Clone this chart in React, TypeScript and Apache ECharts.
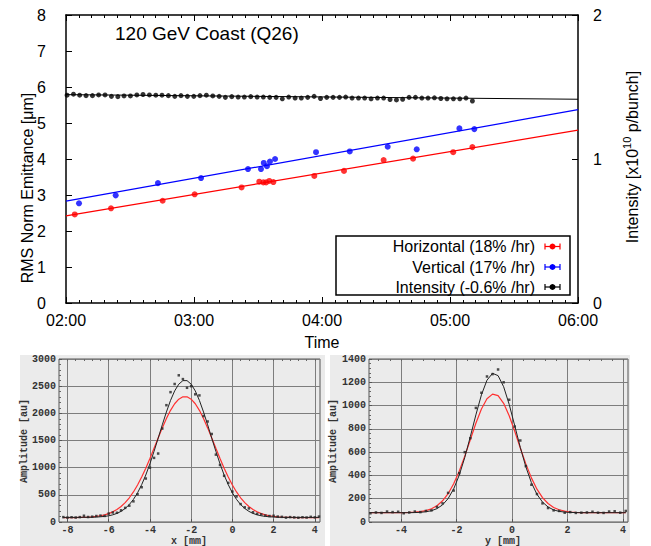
import React, { useEffect, useRef } from "react";
import * as echarts from "echarts";

const SANS = "'Liberation Sans', Arial, Helvetica, sans-serif";
const MONO = "'Liberation Mono', 'DejaVu Sans Mono', 'Courier New', monospace";

// ---------- Top chart data (time in minutes after 02:00) ----------
const timeTickLabels = ["02:00", "03:00", "04:00", "05:00", "06:00"];

const intensityTimes = [
  0.5, 3.5, 6.4, 9.4, 12.4, 15.3, 18.3, 21.3, 24.3, 27.2, 30.2, 33.2, 36.1, 39.1, 42.1, 45.0,
  48.0, 51.0, 53.9, 56.9, 59.9, 62.8, 65.8, 68.8, 71.8, 74.7, 77.7, 80.7, 83.6, 86.6, 89.6,
  92.5, 95.5, 98.5, 101.4, 104.4, 107.4, 110.3, 113.3, 116.3, 119.3, 122.2, 125.2, 128.2,
  131.1, 134.1, 137.1, 140.0, 143.0, 146.0, 148.9, 151.9, 154.9, 157.8, 160.8, 163.8, 166.8,
  169.7, 172.7, 175.7, 178.6, 181.6, 184.6, 187.5, 190.5,
];
// x10^10 p/bunch
const intensityValues = [
  1.443, 1.45, 1.443, 1.44, 1.44, 1.445, 1.445, 1.435, 1.433, 1.438, 1.438, 1.445, 1.448,
  1.445, 1.443, 1.443, 1.44, 1.435, 1.44, 1.435, 1.435, 1.44, 1.443, 1.438, 1.435, 1.428,
  1.433, 1.43, 1.43, 1.433, 1.43, 1.43, 1.428,
  1.428, 1.418, 1.43, 1.423, 1.423, 1.428, 1.435, 1.42, 1.428, 1.428, 1.428, 1.43, 1.423,
  1.423, 1.423, 1.418, 1.423, 1.423, 1.413, 1.41, 1.415, 1.428, 1.428, 1.423, 1.423, 1.425,
  1.42, 1.418, 1.418, 1.418, 1.423, 1.403,
];
const intensityFit = [1.447, 1.415]; // at 02:00 and 06:00

const vertTimes = [6.1, 23.3, 43.1, 63.3, 85.3, 91.4, 92.7, 94.2, 95.6, 98.0, 117.2, 133.0, 150.8, 164.4, 184.4, 191.4];
const vertValues = [2.77, 2.99, 3.33, 3.47, 3.72, 3.72, 3.89, 3.8, 3.93, 4.0, 4.19, 4.21, 4.34, 4.27, 4.85, 4.83];
const vertFit = [2.83, 5.37];

const horizTimes = [4.1, 21.1, 45.3, 60.3, 82.3, 90.6, 92.5, 93.8, 95.3, 97.2, 116.4, 130.3, 148.9, 162.7, 181.5, 190.5];
const horizValues = [2.46, 2.63, 2.84, 3.02, 3.21, 3.37, 3.35, 3.35, 3.39, 3.36, 3.53, 3.67, 3.97, 4.01, 4.19, 4.33];
const horizFit = [2.42, 4.8];

const legendLabels = ["Horizontal (18% /hr)", "Vertical (17% /hr)", "Intensity (-0.6% /hr)"];
const legendColors = ["#ff0000", "#0000ff", "#000000"];

// ---------- Bottom-left profile (x) ----------
const profXPos = [
  -8.2, -8.0, -7.8, -7.6, -7.4, -7.2, -7.0, -6.8, -6.6, -6.4, -6.2, -6.0, -5.8, -5.6, -5.4, -5.2,
  -5.0, -4.8, -4.6, -4.4, -4.2, -4.0, -3.8, -3.6, -3.4, -3.2, -3.0, -2.8, -2.6, -2.4, -2.2, -2.0,
  -1.8, -1.6, -1.4, -1.2, -1.0, -0.8, -0.6, -0.4, -0.2, 0.0, 0.2, 0.4, 0.6, 0.8, 1.0, 1.2, 1.4,
  1.6, 1.8, 2.0, 2.2, 2.4, 2.6, 2.8, 3.0, 3.2, 3.4, 3.6, 3.8, 4.0, 4.2,
];
const profXDots = [
  90, 80, 88, 82, 90, 115, 92, 98, 110, 118,
  112, 155, 175, 170, 215, 260, 300, 380, 510, 640,
  800, 1000, 1180, 1260, 1720, 2150, 2390, 2540, 2700, 2630,
  2470, 2500, 2350, 2330, 1950, 1850, 1620, 1240, 1050, 850,
  720, 560, 470, 330, 270, 250, 180, 150, 140, 120,
  110, 115, 100, 95, 80, 90, 85, 78, 88, 82,
  95, 85, 100,
];
const profXFit = [
  85, 85, 85, 85, 85, 86, 86, 88, 91, 96,
  103, 114, 132, 158, 196, 249, 321, 416, 537, 687,
  865, 1072, 1300, 1542, 1789, 2025, 2238, 2413, 2537, 2602,
  2602, 2537, 2413, 2238, 2025, 1789, 1542, 1300, 1072, 865,
  687, 537, 416, 321, 249, 196, 158, 132, 114, 103,
  96, 91, 88, 86, 85, 85, 85, 85, 85, 85,
  85, 85, 85,
];
const profXGauss = [
  80, 80, 81, 82, 84, 86, 89, 95, 103, 115,
  131, 155, 187, 230, 286, 357, 446, 553, 681, 827,
  991, 1169, 1356, 1547, 1732, 1904, 2055, 2176, 2261, 2304,
  2304, 2261, 2176, 2055, 1904, 1732, 1547, 1356, 1169, 991,
  827, 681, 553, 446, 357, 286, 230, 187, 155, 131,
  115, 103, 95, 89, 86, 84, 82, 81, 81, 80,
  80, 80, 80,
];
const profXTicks = [-8, -6, -4, -2, 0, 2, 4];
const profXMinorTicks = [
  -8, -7.6, -7.2, -6.8, -6.4, -6, -5.6, -5.2, -4.8, -4.4, -4, -3.6, -3.2, -2.8, -2.4, -2,
  -1.6, -1.2, -0.8, -0.4, 0, 0.4, 0.8, 1.2, 1.6, 2, 2.4, 2.8, 3.2, 3.6, 4,
];

// ---------- Bottom-right profile (y) ----------
const profYPos = [
  -5.1, -4.9, -4.7, -4.5, -4.3, -4.1, -3.9, -3.7, -3.5, -3.3, -3.1, -2.9, -2.7, -2.5, -2.3, -2.1,
  -1.9, -1.7, -1.5, -1.3, -1.1, -0.9, -0.7, -0.5, -0.3, -0.1, 0.1, 0.3, 0.5, 0.7, 0.9, 1.1, 1.3,
  1.5, 1.7, 1.9, 2.1, 2.3, 2.5, 2.7, 2.9, 3.1, 3.3, 3.5, 3.7, 3.9, 4.1,
];
const profYDots = [
  75, 82, 78, 90, 85, 88, 75, 82, 90, 85,
  95, 100, 130, 160, 250, 270, 420, 600, 720, 980,
  1110, 1250, 1270, 1310, 1200, 1050, 820, 700, 480, 320,
  240, 160, 120, 100, 95, 80, 85, 78, 80, 82,
  88, 80, 78, 90, 92, 80, 95,
];
const profYFit = [
  80, 80, 80, 80, 80, 80, 80, 80, 81, 83,
  88, 97, 115, 147, 201, 284, 402, 554, 733, 920,
  1092, 1218, 1277, 1257, 1162, 1010, 827, 641, 474, 338,
  238, 171, 129, 104, 91, 85, 82, 81, 80, 80,
  80, 80, 80, 80, 80, 80, 80,
];
const profYGauss = [
  80, 80, 80, 80, 80, 80, 81, 82, 84, 89,
  98, 114, 140, 182, 243, 328, 436, 566, 707, 848,
  970, 1058, 1098, 1085, 1019, 912, 779, 636, 499, 379,
  282, 210, 159, 125, 105, 93, 86, 83, 81, 80,
  80, 80, 80, 80, 80, 80, 80,
];
const profYTicks = [-4, -2, 0, 2, 4];
const profYMinorTicks = [
  -4.8, -4.4, -4, -3.6, -3.2, -2.8, -2.4, -2, -1.6, -1.2, -0.8, -0.4, 0, 0.4, 0.8, 1.2, 1.6,
  2, 2.4, 2.8, 3.2, 3.6, 4,
];

const zip = (xs: number[], ys: number[]) => xs.map((x, i) => [x, ys[i]]);

function buildOption(): any {
  const frame = { show: true, onZero: false, lineStyle: { color: "#000", width: 1.5 } };
  const topTickLabel = { fontFamily: SANS, fontSize: 16, color: "#000" };
  const monoLabel = { fontFamily: MONO, fontSize: 10, fontWeight: "bold", color: "#333" };
  const profSplit = { show: true, lineStyle: { color: "#7d7d7d", width: 1 } };
  const profTick = { show: true, inside: true, length: 3, lineStyle: { color: "#555" } };
  const profMinor = { show: true, splitNumber: 5, length: 2, lineStyle: { color: "#666" } };
  const plain = (v: number) => String(v);

  const legendGraphics: any[] = [];
  const rowsY = [246.5, 267, 287];
  legendLabels.forEach((lab, i) => {
    const y = rowsY[i];
    const c = legendColors[i];
    legendGraphics.push(
      {
        type: "text",
        x: 535,
        y,
        z: 21,
        style: {
          text: lab, fontFamily: SANS, fontSize: 16, fill: "#000",
          align: "right", verticalAlign: "middle", textAlign: "right", textVerticalAlign: "middle",
        },
      },
      { type: "line", z: 21, shape: { x1: 545, y1: y, x2: 560, y2: y }, style: { stroke: c, lineWidth: 1.2 } },
      { type: "line", z: 21, shape: { x1: 545, y1: y - 3, x2: 545, y2: y + 3 }, style: { stroke: c, lineWidth: 1.2 } },
      { type: "line", z: 21, shape: { x1: 560, y1: y - 3, x2: 560, y2: y + 3 }, style: { stroke: c, lineWidth: 1.2 } },
      { type: "circle", z: 22, shape: { cx: 552.5, cy: y, r: 3 }, style: { fill: c } }
    );
  });

  const rotText = (text: string, x: number, y: number, font: string, size: number, weight: string, color: string) => ({
    type: "text", x, y, rotation: Math.PI / 2,
    style: {
      text, fontFamily: font, fontSize: size, fontWeight: weight, fill: color,
      align: "center", verticalAlign: "top", textAlign: "center", textVerticalAlign: "top",
    },
  });

  return {
    animation: false,
    backgroundColor: "#ffffff",
    textStyle: { fontFamily: SANS },
    grid: [
      { left: 66, top: 15, width: 512, height: 288, show: false },
      { left: 59, top: 359, width: 261, height: 163, show: true, backgroundColor: "transparent", borderColor: "#555", borderWidth: 1 },
      { left: 369, top: 359, width: 259, height: 163, show: true, backgroundColor: "transparent", borderColor: "#555", borderWidth: 1 },
    ],
    xAxis: [
      {
        gridIndex: 0, type: "value", min: 0, max: 240, interval: 60, position: "bottom",
        axisLine: frame,
        axisTick: { show: true, inside: true, length: 6, lineStyle: { color: "#000" } },
        minorTick: { show: true, splitNumber: 10, length: 3, lineStyle: { color: "#000" } },
        axisLabel: { ...topTickLabel, margin: 9, formatter: (v: number) => timeTickLabels[Math.round(v / 60)] ?? "" },
        splitLine: { show: false },
      },
      {
        gridIndex: 0, type: "value", min: 0, max: 240, interval: 60, position: "top",
        axisLine: frame,
        axisTick: { show: true, inside: true, length: 6, lineStyle: { color: "#000" } },
        minorTick: { show: true, splitNumber: 10, length: 3, lineStyle: { color: "#000" } },
        axisLabel: { show: false },
        splitLine: { show: false },
      },
      {
        gridIndex: 1, type: "value", min: -8.41, max: 4.25, position: "bottom",
        axisLine: { show: false, onZero: false },
        axisTick: { ...profTick, customValues: profXTicks },
        axisLabel: { ...monoLabel, margin: 3, customValues: profXTicks, formatter: plain },
        splitLine: profSplit,
      },
      {
        gridIndex: 2, type: "value", min: -5.15, max: 4.18, position: "bottom",
        axisLine: { show: false, onZero: false },
        axisTick: { ...profTick, customValues: profYTicks },
        axisLabel: { ...monoLabel, margin: 3, customValues: profYTicks, formatter: plain },
        splitLine: profSplit,
      },
      {
        gridIndex: 1, type: "value", min: -8.41, max: 4.25, position: "top",
        axisLine: { show: false, onZero: false },
        axisTick: { show: true, inside: true, length: 2, lineStyle: { color: "#666" }, customValues: profXMinorTicks },
        axisLabel: { show: false },
        splitLine: { show: false },
      },
      {
        gridIndex: 2, type: "value", min: -5.15, max: 4.18, position: "top",
        axisLine: { show: false, onZero: false },
        axisTick: { show: true, inside: true, length: 2, lineStyle: { color: "#666" }, customValues: profYMinorTicks },
        axisLabel: { show: false },
        splitLine: { show: false },
      },
    ],
    yAxis: [
      {
        gridIndex: 0, type: "value", min: 0, max: 8, interval: 1, position: "left",
        axisLine: frame,
        axisTick: { show: true, inside: true, length: 6, lineStyle: { color: "#000" } },
        axisLabel: { ...topTickLabel, margin: 20 },
        splitLine: { show: false },
      },
      {
        gridIndex: 0, type: "value", min: 0, max: 2, interval: 1, position: "right",
        axisLine: frame,
        axisTick: { show: true, inside: true, length: 6, lineStyle: { color: "#000" } },
        axisLabel: { ...topTickLabel, margin: 15 },
        splitLine: { show: false },
      },
      {
        gridIndex: 1, type: "value", min: 0, max: 3000, interval: 500, position: "left",
        axisLine: { show: false, onZero: false },
        axisTick: profTick,
        minorTick: profMinor,
        axisLabel: { ...monoLabel, margin: 3, formatter: plain },
        splitLine: profSplit,
      },
      {
        gridIndex: 2, type: "value", min: 0, max: 1400, interval: 200, position: "left",
        axisLine: { show: false, onZero: false },
        axisTick: profTick,
        minorTick: profMinor,
        axisLabel: { ...monoLabel, margin: 3, formatter: plain },
        splitLine: profSplit,
      },
    ],
    graphic: [
      { type: "rect", z: -10, shape: { x: 20, y: 355, width: 305, height: 191 }, style: { fill: "#ebebeb" } },
      { type: "rect", z: -10, shape: { x: 330, y: 355, width: 300, height: 191 }, style: { fill: "#ebebeb" } },
      {
        type: "text", x: 115, y: 33,
        style: { text: "120 GeV Coast (Q26)", fontFamily: SANS, fontSize: 19, fill: "#000", align: "left", verticalAlign: "middle", textAlign: "left", textVerticalAlign: "middle" },
      },
      rotText("RMS Norm Emittance [μm]", 19.5, 188, SANS, 16, "normal", "#000"),
      {
        type: "text", x: 621, y: 157, rotation: Math.PI / 2,
        style: {
          text: "{n|Intensity [x10}{s|10}{n| p/bunch]}",
          align: "center", verticalAlign: "top", textAlign: "center", textVerticalAlign: "top",
          rich: {
            n: { fontFamily: SANS, fontSize: 16, fill: "#000", lineHeight: 22 },
            s: { fontFamily: SANS, fontSize: 11, fill: "#000", lineHeight: 11, verticalAlign: "top" },
          },
        },
      },
      {
        type: "text", x: 322, y: 342,
        style: { text: "Time", fontFamily: SANS, fontSize: 16, fill: "#000", align: "center", verticalAlign: "middle", textAlign: "center", textVerticalAlign: "middle" },
      },
      { type: "rect", z: 20, shape: { x: 336, y: 236, width: 234, height: 59 }, style: { fill: "#fff", stroke: "#000", lineWidth: 1.5 } },
      ...legendGraphics,
      rotText("Amplitude [au]", 19.5, 441, MONO, 10, "bold", "#333"),
      rotText("Amplitude [au]", 328.5, 441, MONO, 10, "bold", "#333"),
      {
        type: "text", x: 189, y: 541.5,
        style: { text: "x [mm]", fontFamily: MONO, fontWeight: "bold", fontSize: 10, fill: "#333", align: "center", verticalAlign: "middle", textAlign: "center", textVerticalAlign: "middle" },
      },
      {
        type: "text", x: 503, y: 541.5,
        style: { text: "y [mm]", fontFamily: MONO, fontWeight: "bold", fontSize: 10, fill: "#333", align: "center", verticalAlign: "middle", textAlign: "center", textVerticalAlign: "middle" },
      },
    ],
    series: [
      {
        name: "Intensity fit", type: "line", xAxisIndex: 0, yAxisIndex: 1, symbol: "none", z: 2,
        data: [[0, intensityFit[0]], [240, intensityFit[1]]],
        lineStyle: { color: "#000", width: 1 },
      },
      {
        name: "Intensity", type: "scatter", xAxisIndex: 0, yAxisIndex: 1, symbol: "circle", symbolSize: 5, z: 3,
        data: zip(intensityTimes, intensityValues), itemStyle: { color: "#000" },
      },
      {
        name: "Horizontal fit", type: "line", xAxisIndex: 0, yAxisIndex: 0, symbol: "none", z: 2,
        data: [[0, horizFit[0]], [240, horizFit[1]]], lineStyle: { color: "#ff0000", width: 1.2 },
      },
      {
        name: "Vertical fit", type: "line", xAxisIndex: 0, yAxisIndex: 0, symbol: "none", z: 2,
        data: [[0, vertFit[0]], [240, vertFit[1]]], lineStyle: { color: "#0000ff", width: 1.2 },
      },
      {
        name: "Horizontal", type: "scatter", xAxisIndex: 0, yAxisIndex: 0, symbolSize: 6, z: 3,
        data: zip(horizTimes, horizValues), itemStyle: { color: "#ff0000" },
      },
      {
        name: "Vertical", type: "scatter", xAxisIndex: 0, yAxisIndex: 0, symbolSize: 6, z: 3,
        data: zip(vertTimes, vertValues), itemStyle: { color: "#0000ff" },
      },
      // bottom-left
      {
        type: "line", xAxisIndex: 2, yAxisIndex: 2, symbol: "none", z: 2,
        data: zip(profXPos, profXGauss), lineStyle: { color: "#ff3030", width: 1.2 },
      },
      {
        type: "line", xAxisIndex: 2, yAxisIndex: 2, symbol: "none", z: 3,
        data: zip(profXPos, profXFit), lineStyle: { color: "#222", width: 1 },
      },
      {
        type: "scatter", xAxisIndex: 2, yAxisIndex: 2, symbol: "rect", symbolSize: 2.5, z: 4,
        data: zip(profXPos, profXDots), itemStyle: { color: "#222" },
      },
      // bottom-right
      {
        type: "line", xAxisIndex: 3, yAxisIndex: 3, symbol: "none", z: 2,
        data: zip(profYPos, profYGauss), lineStyle: { color: "#ff3030", width: 1.2 },
      },
      {
        type: "line", xAxisIndex: 3, yAxisIndex: 3, symbol: "none", z: 3,
        data: zip(profYPos, profYFit), lineStyle: { color: "#222", width: 1 },
      },
      {
        type: "scatter", xAxisIndex: 3, yAxisIndex: 3, symbol: "rect", symbolSize: 2.5, z: 4,
        data: zip(profYPos, profYDots), itemStyle: { color: "#222" },
      },
    ],
  };
}

export default function App() {
  const ref = useRef<HTMLDivElement>(null);
  useEffect(() => {
    const el = ref.current;
    if (!el) return;
    const chart = echarts.init(el, null, { renderer: "svg" });
    chart.setOption(buildOption());
    return () => chart.dispose();
  }, []);
  return (
    <div
      ref={ref}
      style={{ position: "absolute", left: 0, top: 0, width: 651, height: 546, background: "#fff" }}
    />
  );
}
